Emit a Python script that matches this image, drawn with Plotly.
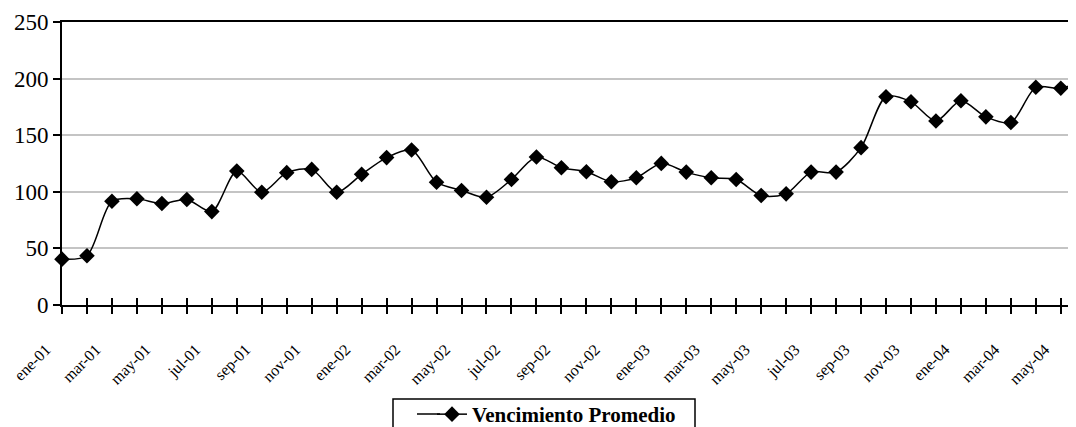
import plotly.graph_objects as go

months = ["ene", "feb", "mar", "abr", "may", "jun", "jul", "ago", "sep", "oct", "nov", "dic"]
years = ["01", "02", "03", "04"]
categories = [f"{m}-{y}" for y in years for m in months][:42]  # ene-01 .. jun-04

values = [40.5, 43.5, 91.7, 93.8, 89.6, 93.2, 82.5, 118.3, 99.6, 116.9, 119.8, 99.6,
          115.4, 130.2, 136.9, 108.5, 101.2, 95.2, 110.9, 130.7, 121.3, 117.7, 108.9, 112.4,
          125.1, 117.4, 112.4, 110.9, 96.7, 98.2, 117.4, 117.4, 139.0, 184.0, 179.5, 162.6,
          180.4, 166.2, 161.2, 192.3, 191.5, 199.0]

series_name = "Vencimiento Promedio"
y_ticks = [0, 50, 100, 150, 200, 250]

# page offset of the figure inside the browser page (default body margin)
OFF = 8
W, H = 1076 - OFF, 427 - OFF
ML, MT = 62 - OFF, 22 - OFF
PW, PH = 1014, 283
MR, MB = W - ML - PW, H - MT - PH
MONTH_PX = 24.97
x_max = PW / MONTH_PX


def px(x_page):
    return (x_page - OFF - ML) / PW


def py(y_page):
    return (MT + PH - (y_page - OFF)) / PH


idx = list(range(len(categories)))
tick_text = [c if i % 2 == 0 else "" for i, c in enumerate(categories)]

fig = go.Figure()
fig.add_trace(go.Scatter(
    x=idx, y=values, name=series_name, mode="lines+markers",
    line=dict(color="black", width=1.5, shape="spline", smoothing=0.8),
    marker=dict(symbol="diamond", size=12, color="black"),
    cliponaxis=False,
))

fig.update_layout(
    width=W, height=H,
    margin=dict(l=ML, r=MR, t=MT, b=MB, autoexpand=False),
    paper_bgcolor="white", plot_bgcolor="white",
    font=dict(family="Liberation Serif", color="black"),
    showlegend=True,
    legend=dict(
        x=px(432), y=py(394), xanchor="left", yanchor="top",
        bgcolor="rgba(0,0,0,0)", borderwidth=0,
        font=dict(family="Liberation Serif", size=21, color="black", weight="bold"),
    ),
    xaxis=dict(
        range=[0, x_max], tickmode="array", tickvals=idx, ticktext=tick_text,
        tickangle=-45, tickfont=dict(size=16, family="Liberation Serif"),
        ticklabelshift=-16, ticklabelstandoff=20, ticklabeloverflow="allow",
        ticks="outside", ticklen=7, tickwidth=1.5, tickcolor="black",
        showline=True, linecolor="black", linewidth=2, mirror=True,
        showgrid=False, zeroline=False, automargin=False,
    ),
    xaxis2=dict(
        range=[0, x_max], overlaying="x", anchor="y", side="bottom",
        tickmode="array", tickvals=idx, showticklabels=False,
        ticks="inside", ticklen=7, tickwidth=1.5, tickcolor="black",
        showline=False, showgrid=False, zeroline=False, automargin=False,
    ),
    yaxis=dict(
        range=[0, 250], tickmode="array", tickvals=y_ticks,
        tickfont=dict(size=23, family="Liberation Serif"),
        ticks="outside", ticklen=7, tickwidth=1.5, tickcolor="black",
        showline=True, linecolor="black", linewidth=2,
        showgrid=True, gridcolor="#c4c4c4", gridwidth=1.5, zeroline=False,
        automargin=False,
    ),
)

# invisible trace on xaxis2 so the overlay axis is drawn
fig.add_trace(go.Scatter(x=[0], y=[0], xaxis="x2", mode="markers",
                         marker=dict(opacity=0), showlegend=False, hoverinfo="skip"))

# legend frame
fig.add_shape(type="rect", xref="paper", yref="paper",
              x0=px(393), x1=px(695), y0=py(399), y1=py(445),
              line=dict(color="black", width=1.5), fillcolor="rgba(0,0,0,0)")
# longer legend sample line (Excel style)
fig.add_shape(type="line", xref="paper", yref="paper",
              x0=px(417), x1=px(440), y0=py(414), y1=py(414),
              line=dict(color="black", width=1.5))

fig.write_html("out.html")
